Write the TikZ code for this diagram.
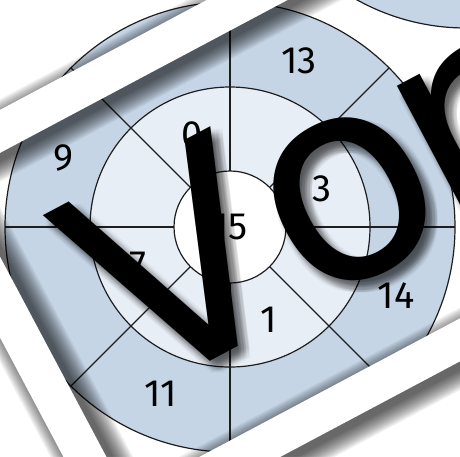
\documentclass[tikz,border=0pt]{standalone}
\usepackage{fontspec}
\newfontfamily\numfont{Fira Sans}
\newfontfamily\wmfont[Kerning=Off]{DejaVu Sans}
\definecolor{outerblue}{HTML}{C5D5E6}
\definecolor{midblue}{HTML}{E8EEF6}
\definecolor{linecol}{HTML}{1E1E1E}
\begin{document}
\begin{tikzpicture}[x=1pt,y=-1pt,
  ring/.style={draw=linecol, line width=1.2pt},
  lbl/.style={font=\numfont\fontsize{38}{40}\selectfont, text=black, inner sep=0pt},
  wm/.style={font=\wmfont\fontsize{284}{284}\selectfont, inner sep=0pt, anchor=base west, rotate=28},
  wmshadow/.style={wm, text=black, text opacity=0.035},
  frameshadow/.style={draw=black, draw opacity=0.055},
  framebar/.style={draw=white, line width=38pt}
]
\useasboundingbox (0,0) rectangle (460,456);
\clip (0,0) rectangle (460,456);
\fill[white] (0,0) rectangle (460,456);
\coordinate (c) at (230,227);
\coordinate (c2) at (466,-197);
% circles
\filldraw[ring, fill=outerblue] (c2) circle[radius=225pt];
\filldraw[ring, fill=outerblue] (c) circle[radius=225pt];
\filldraw[ring, fill=midblue] (c) circle[radius=140pt];
\foreach \a in {0,45,...,315}
  \draw[ring] ([shift={(\a:56)}]c) -- ([shift={(\a:225)}]c);
\filldraw[ring, fill=white] (c) circle[radius=56pt];
% labels
\node[lbl] (n13) at ([shift={(-67.5:180)}]c) {13};
\node[lbl] (n9)  at ([shift={(-157.5:180)}]c) {9};
\node[lbl] (n11) at ([shift={(112.5:180)}]c) {11};
\node[lbl] (n14) at ([shift={(22.5:180)}]c) {14};
\node[lbl] (n3)  at ([shift={(-22.5:100)}]c) {3};
\node[lbl] (n0)  at ([shift={(-112.5:100)}]c) {0};
\node[lbl] (n7)  at ([shift={(157.5:100)}]c) {7};
\node[lbl] (n1)  at ([shift={(67.5:100)}]c) {1};
\node[lbl] (n15) at (c) {15};
% watermark text with soft shadow
\foreach \i in {-2,...,2}
  \foreach \j in {-2,...,2}
    \node[wmshadow] at (138+7+2.5*\i, 400+7+2.5*\j) {Vo\kern-18pt r};
\node[wm] (wmtext) at (138,400) {Vo\kern-18pt r};
% rotated white frame with shadow
\begin{scope}[rotate=28]
  \foreach \k in {0,...,14}
    \draw[frameshadow, line width={38pt+2.5pt*\k}] (-133.5,124) rectangle (586,524);
  \draw[framebar] (-139.5,116) rectangle (580,516);
\end{scope}
\end{tikzpicture}
\end{document}
